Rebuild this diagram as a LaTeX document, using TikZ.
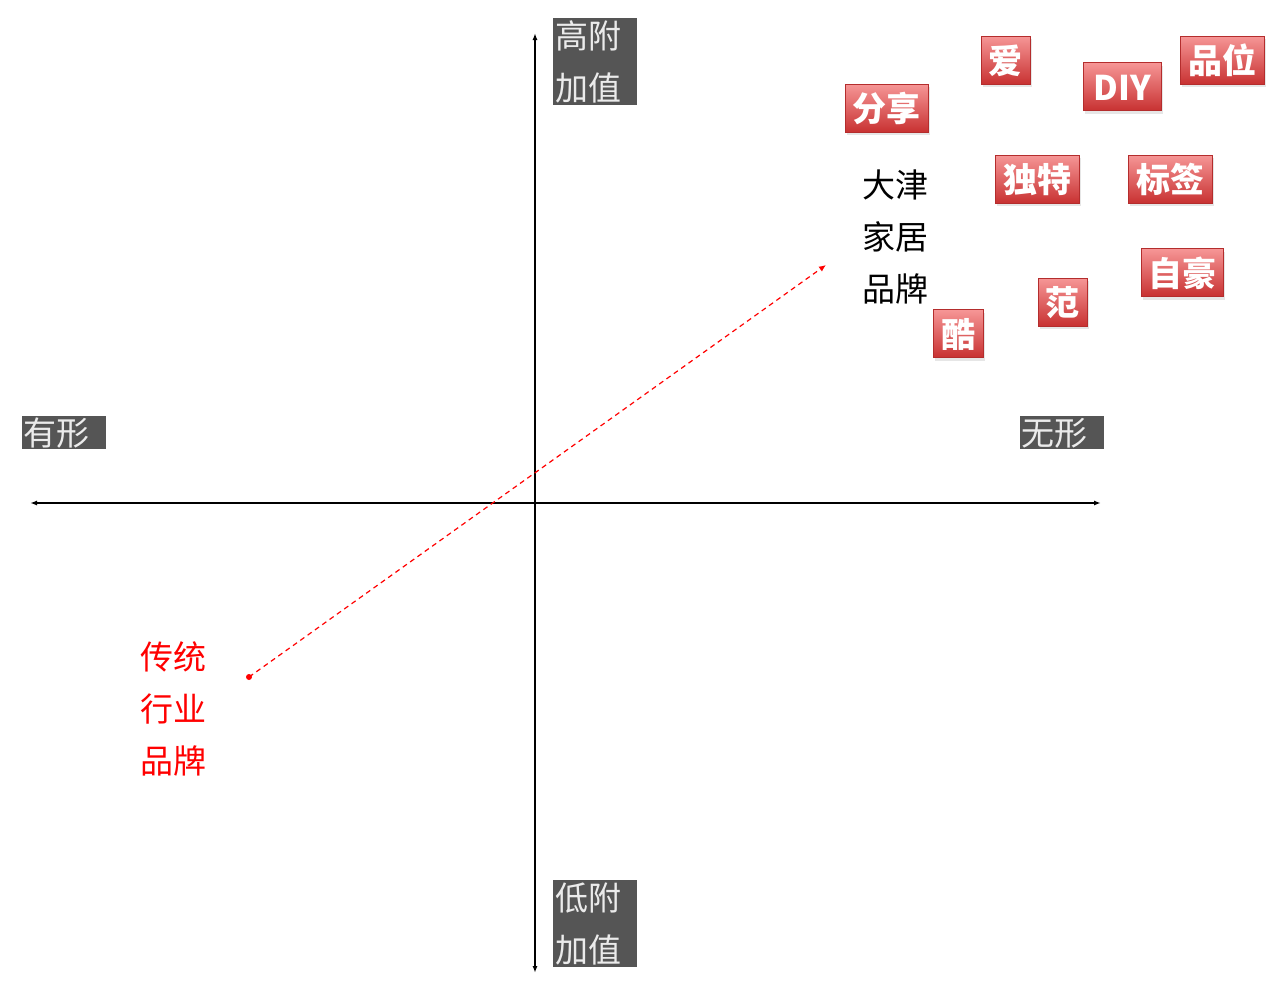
\documentclass[tikz,border=0pt]{standalone}
\usepackage{fontspec}
\newfontfamily\cjk{Noto Sans CJK SC}
\usepackage{tikz}
\usetikzlibrary{arrows.meta}
\usetikzlibrary{shadows}

\definecolor{axgrey}{RGB}{85,85,85}
\definecolor{tagtop}{RGB}{246,150,150}
\definecolor{tagbot}{RGB}{200,50,50}

\tikzset{
  axislab/.style={fill=axgrey,text=white!92!black,align=left,text width=80,
    inner sep=2,font=\cjk\fontsize{33}{52}\selectfont},
  tag/.style={top color=tagtop,bottom color=tagbot,draw=tagbot!90!black,line width=0.4,
    text=white,minimum height=48,inner sep=0,text height=30,text depth=3,
    font=\cjk\bfseries\fontsize{34}{38}\selectfont,
    drop shadow={opacity=0.2,shadow xshift=2pt,shadow yshift=-3pt}},
  plain/.style={align=left,font=\cjk\fontsize{33}{52}\selectfont}
}

\begin{document}
\begin{tikzpicture}[x=1pt,y=-1pt,line width=1.4]
  \useasboundingbox (0,0) rectangle (1280,986);

  % axes
  \coordinate (xl) at (30,503);
  \coordinate (xr) at (1101,503);
  \coordinate (yt) at (535,33);
  \coordinate (yb) at (535,973);
  \draw [{Latex[length=7,width=5]}-{Latex[length=7,width=5]}] (xl) -- (xr);
  \draw [{Latex[length=7,width=5]}-{Latex[length=7,width=5]}] (yb) -- (yt);

  \node[axislab,minimum height=85] at (595,61.5) (hi){高附\\加值};
  \node[axislab,minimum height=85] at (595,923.5) (lo){低附\\加值};
  \node[axislab,minimum height=33,inner ysep=0,text height=29,text depth=4] at (63.5,432.5) (tang){有形};
  \node[axislab,minimum height=33,inner ysep=0,text height=29,text depth=4] at (1061.5,432.5) (intang){无形};

  \node[plain] at (895,237) (dj){大津\\家居\\品牌};
  \node[plain,text=red] at (173,709) (ct){传统\\行业\\品牌};

  % the move from traditional to the brand
  \node[circle,fill=red,inner sep=0,minimum size=6] at (249,677) (st){};
  \coordinate (en) at (826,265);
  \draw [red,line width=1.2,dash pattern=on 5 off 4,-{Latex[length=7,width=6]}] (st.center) -- (en);

  % tags
  \node[tag,minimum width=83] at (886.5,108) (fx){分享};
  \node[tag,minimum width=49] at (1005.5,60) (ai){爱};
  \node[tag,minimum width=78] at (1122,86.5) (diy){DIY};
  \node[tag,minimum width=84] at (1222,60) (pw){品位};
  \node[tag,minimum width=84] at (1037,179) (dt){独特};
  \node[tag,minimum width=84] at (1170,179) (bq){标签};
  \node[tag,minimum width=82] at (1182,272.5) (zh){自豪};
  \node[tag,minimum width=49] at (1062.5,302) (fan){范};
  \node[tag,minimum width=50] at (958,333.5) (ku){酷};

\end{tikzpicture}
\end{document}
